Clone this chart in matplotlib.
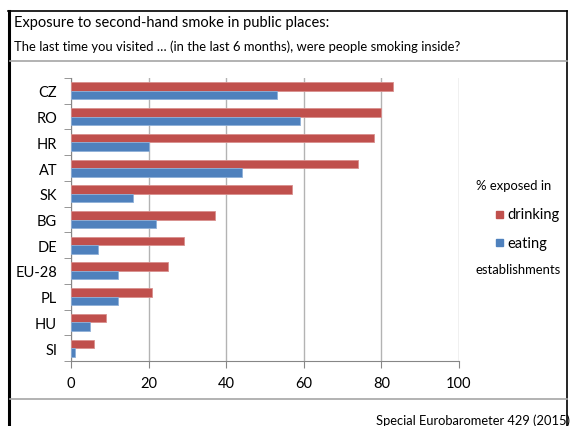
import matplotlib
matplotlib.use("Agg")
import matplotlib.pyplot as plt
from matplotlib.lines import Line2D
from matplotlib.patches import Rectangle
import numpy as np

countries = ["CZ", "RO", "HR", "AT", "SK", "BG", "DE", "EU-28", "PL", "HU", "SI"]
drinking = [83, 80, 78, 74, 57, 37, 29, 25, 21, 9, 6]
eating = [53, 59, 20, 44, 16, 22, 7, 12, 12, 5, 1]
xticks = [0, 20, 40, 60, 80, 100]

plt.rcParams['font.family'] = ['Lato', 'DejaVu Sans']

W, H = 570, 427
fig = plt.figure(figsize=(W / 100, H / 100), dpi=100)

def fx(px):
    return px / W

def fy(py):
    return 1 - py / H

# Frame
fig.add_artist(Line2D([fx(9), fx(9)], [fy(12), fy(427)], color='black', lw=2.2, transform=fig.transFigure))
fig.add_artist(Line2D([fx(8), fx(567)], [fy(12), fy(12)], color='black', lw=1.2, transform=fig.transFigure))
fig.add_artist(Line2D([fx(567), fx(567)], [fy(12), fy(427)], color='black', lw=1.2, transform=fig.transFigure))
fig.add_artist(Line2D([fx(10), fx(567)], [fy(62), fy(62)], color='#a6a6a6', lw=1.2, transform=fig.transFigure))
fig.add_artist(Line2D([fx(10), fx(567)], [fy(400), fy(400)], color='#a6a6a6', lw=1.2, transform=fig.transFigure))

fig.text(fx(14), fy(23), "Exposure to second-hand smoke in public places:", fontsize=10.5, va='center', ha='left')
fig.text(fx(14), fy(47), "The last time you visited \u2026 (in the last 6 months), were people smoking inside?", fontsize=9.4, va='center', ha='left')
fig.text(fx(570), fy(421), "Special Eurobarometer 429 (2015)", fontsize=9.3, va='center', ha='right')

# Axes
ax = fig.add_axes([fx(71), fy(362), fx(459) - fx(71), fy(79) - fy(362)])
n = len(countries)
y = np.arange(n)
h = 0.33
ax.barh(y - h / 2, drinking, height=h, color='#C0504D', edgecolor='#d9908e', linewidth=0.6, zorder=3)
ax.barh(y + h / 2, eating, height=h, color='#4F81BD', edgecolor='#8fb0d8', linewidth=0.6, zorder=3)
ax.set_ylim(n - 0.5, -0.5)
ax.set_xlim(0, 100)
ax.set_xticks(xticks)
ax.set_xticklabels([str(v) for v in xticks], fontsize=10.5)
ax.set_yticks(y)
ax.set_yticklabels(countries, fontsize=10.5)
ax.set_yticks(np.arange(-0.5, n, 1), minor=True)
ax.tick_params(axis='y', which='major', length=0, pad=10)
ax.tick_params(axis='y', which='minor', length=5, color='#868686', direction='out')
ax.tick_params(axis='x', which='major', length=5, color='#868686', direction='out', pad=6)
ax.grid(axis='x', color='#b3b3b3', lw=1.0, zorder=0)
for s in ['top', 'right']:
    ax.spines[s].set_visible(False)
ax.spines['left'].set_color('#868686')
ax.spines['bottom'].set_color('#868686')
ax.set_axisbelow(True)

# Legend
fig.text(fx(476), fy(186), "% exposed in", fontsize=9.4, va='center', ha='left')
fig.add_artist(Rectangle((fx(496), fy(219)), fx(7), fy(212) - fy(219), color='#C0504D', transform=fig.transFigure))
fig.text(fx(507), fy(215), "drinking", fontsize=10.5, va='center', ha='left')
fig.add_artist(Rectangle((fx(496), fy(247)), fx(7), fy(240) - fy(247), color='#4F81BD', transform=fig.transFigure))
fig.text(fx(507), fy(244), "eating", fontsize=10.5, va='center', ha='left')
fig.text(fx(476), fy(270), "establishments", fontsize=9.4, va='center', ha='left')

fig.savefig("out.png", dpi=100)
